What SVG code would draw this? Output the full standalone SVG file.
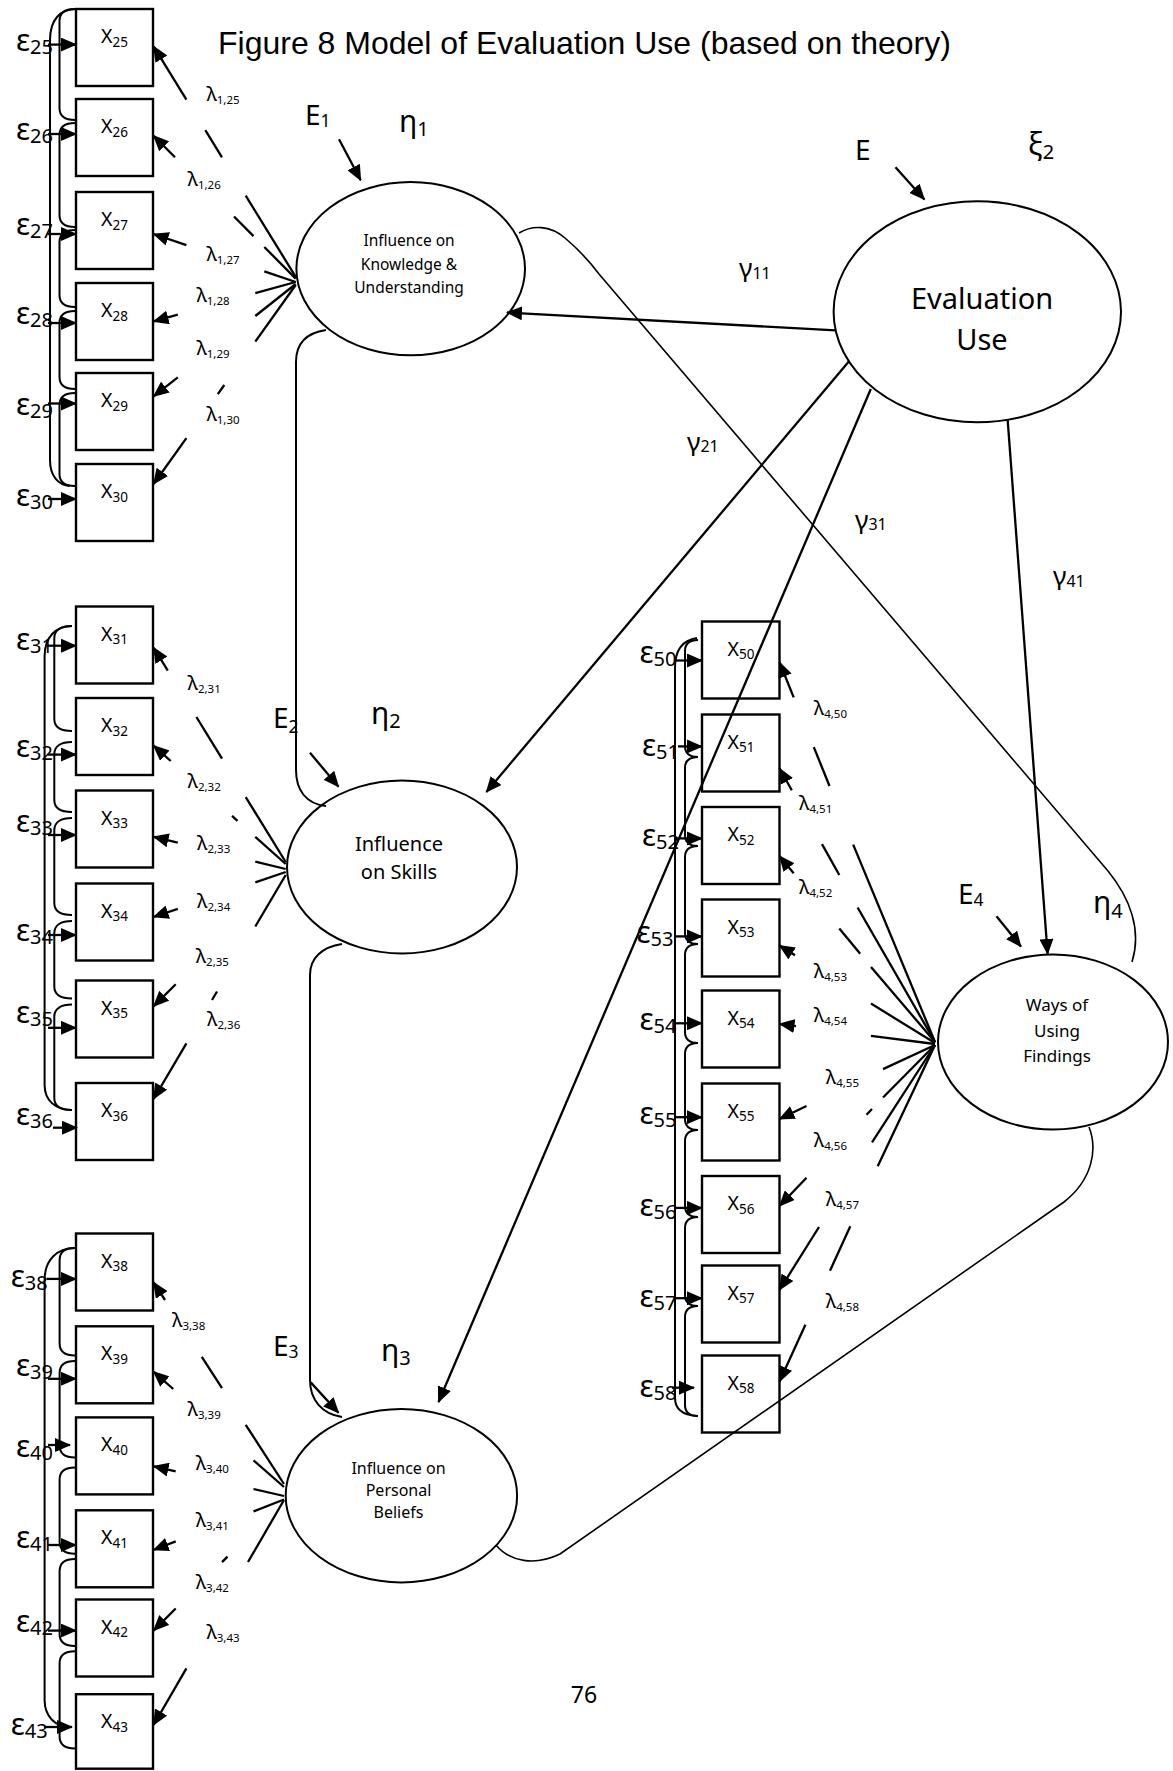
<svg xmlns="http://www.w3.org/2000/svg" width="1173" height="1771" viewBox="0 0 1173 1771">
<style>
.t{font-family:"Noto Sans","DejaVu Sans",sans-serif;fill:#000}
.ln{stroke:#000;stroke-width:2.3;fill:none}
.br{stroke:#000;stroke-width:2;fill:none}
.thin{stroke:#000;stroke-width:1.6;fill:none}
.ar{marker-end:url(#ah)}
.box{fill:none;stroke:#000;stroke-width:2.4}
.ell{fill:none;stroke:#000;stroke-width:2}
.xl{font-size:19.5px}
.xs{font-size:13.5px}
.el{font-size:30px}
.es{font-size:20px}
.ll{font-size:20px}
.ls{font-size:11.5px}
.bigE{font-size:28px}
.bigEs{font-size:17.5px}
.eta{font-size:30px}
.etas{font-size:20px}
.gam{font-size:26px}
.gams{font-size:16px}
</style>
<defs>
<marker id="ah" viewBox="0 0 16 14" markerWidth="16" markerHeight="14" refX="15" refY="7" orient="auto" markerUnits="userSpaceOnUse"><path d="M0,0L16,7L0,14z" fill="#000"/></marker>
</defs>

<text id="title" x="218" y="53.5" font-family="Liberation Sans, Arial, sans-serif" font-size="32" fill="#000">Figure 8 Model of Evaluation Use (based on theory)</text>
<text id="page" class="t" x="584" y="1703" text-anchor="middle" font-size="23">76</text>

<!-- Indicator boxes -->
<g id="x25"><rect class="box" x="76" y="9" width="77" height="77"/><text class="t xl" x="114.5" y="43" text-anchor="middle">X<tspan class="xs" dy="3.5">25</tspan></text></g>
<g id="x26"><rect class="box" x="76" y="99" width="77" height="77"/><text class="t xl" x="114.5" y="133" text-anchor="middle">X<tspan class="xs" dy="3.5">26</tspan></text></g>
<g id="x27"><rect class="box" x="76" y="192" width="77" height="77"/><text class="t xl" x="114.5" y="226" text-anchor="middle">X<tspan class="xs" dy="3.5">27</tspan></text></g>
<g id="x28"><rect class="box" x="76" y="283" width="77" height="77"/><text class="t xl" x="114.5" y="317" text-anchor="middle">X<tspan class="xs" dy="3.5">28</tspan></text></g>
<g id="x29"><rect class="box" x="76" y="373" width="77" height="77"/><text class="t xl" x="114.5" y="407" text-anchor="middle">X<tspan class="xs" dy="3.5">29</tspan></text></g>
<g id="x30"><rect class="box" x="76" y="464" width="77" height="77"/><text class="t xl" x="114.5" y="498" text-anchor="middle">X<tspan class="xs" dy="3.5">30</tspan></text></g>

<g id="x31"><rect class="box" x="76" y="606.5" width="77" height="77"/><text class="t xl" x="114.5" y="640.5" text-anchor="middle">X<tspan class="xs" dy="3.5">31</tspan></text></g>
<g id="x32"><rect class="box" x="76" y="698" width="77" height="77"/><text class="t xl" x="114.5" y="732" text-anchor="middle">X<tspan class="xs" dy="3.5">32</tspan></text></g>
<g id="x33"><rect class="box" x="76" y="790.5" width="77" height="77"/><text class="t xl" x="114.5" y="824.5" text-anchor="middle">X<tspan class="xs" dy="3.5">33</tspan></text></g>
<g id="x34"><rect class="box" x="76" y="883.5" width="77" height="77"/><text class="t xl" x="114.5" y="917.5" text-anchor="middle">X<tspan class="xs" dy="3.5">34</tspan></text></g>
<g id="x35"><rect class="box" x="76" y="980.5" width="77" height="77"/><text class="t xl" x="114.5" y="1014.5" text-anchor="middle">X<tspan class="xs" dy="3.5">35</tspan></text></g>
<g id="x36"><rect class="box" x="76" y="1083" width="77" height="77"/><text class="t xl" x="114.5" y="1117" text-anchor="middle">X<tspan class="xs" dy="3.5">36</tspan></text></g>

<g id="x38"><rect class="box" x="76" y="1233.5" width="77" height="77"/><text class="t xl" x="114.5" y="1267.5" text-anchor="middle">X<tspan class="xs" dy="3.5">38</tspan></text></g>
<g id="x39"><rect class="box" x="76" y="1326.3" width="77" height="77"/><text class="t xl" x="114.5" y="1360.3" text-anchor="middle">X<tspan class="xs" dy="3.5">39</tspan></text></g>
<g id="x40"><rect class="box" x="76" y="1417.4" width="77" height="77"/><text class="t xl" x="114.5" y="1451.4" text-anchor="middle">X<tspan class="xs" dy="3.5">40</tspan></text></g>
<g id="x41"><rect class="box" x="76" y="1510.3" width="77" height="77"/><text class="t xl" x="114.5" y="1544.3" text-anchor="middle">X<tspan class="xs" dy="3.5">41</tspan></text></g>
<g id="x42"><rect class="box" x="76" y="1599.5" width="77" height="77"/><text class="t xl" x="114.5" y="1633.5" text-anchor="middle">X<tspan class="xs" dy="3.5">42</tspan></text></g>
<g id="x43"><rect class="box" x="76" y="1694.2" width="77" height="74.5"/><text class="t xl" x="114.5" y="1728.2" text-anchor="middle">X<tspan class="xs" dy="3.5">43</tspan></text></g>

<g id="x50"><rect class="box" x="702" y="621.5" width="77.5" height="77"/><text class="t xl" x="741" y="655.5" text-anchor="middle">X<tspan class="xs" dy="3.5">50</tspan></text></g>
<g id="x51"><rect class="box" x="702" y="714.5" width="77.5" height="77"/><text class="t xl" x="741" y="748.5" text-anchor="middle">X<tspan class="xs" dy="3.5">51</tspan></text></g>
<g id="x52"><rect class="box" x="702" y="807" width="77.5" height="77"/><text class="t xl" x="741" y="841" text-anchor="middle">X<tspan class="xs" dy="3.5">52</tspan></text></g>
<g id="x53"><rect class="box" x="702" y="899.5" width="77.5" height="77"/><text class="t xl" x="741" y="933.5" text-anchor="middle">X<tspan class="xs" dy="3.5">53</tspan></text></g>
<g id="x54"><rect class="box" x="702" y="990.5" width="77.5" height="77"/><text class="t xl" x="741" y="1024.5" text-anchor="middle">X<tspan class="xs" dy="3.5">54</tspan></text></g>
<g id="x55"><rect class="box" x="702" y="1083.5" width="77.5" height="77"/><text class="t xl" x="741" y="1117.5" text-anchor="middle">X<tspan class="xs" dy="3.5">55</tspan></text></g>
<g id="x56"><rect class="box" x="702" y="1176" width="77.5" height="77"/><text class="t xl" x="741" y="1210" text-anchor="middle">X<tspan class="xs" dy="3.5">56</tspan></text></g>
<g id="x57"><rect class="box" x="702" y="1265.5" width="77.5" height="77"/><text class="t xl" x="741" y="1299.5" text-anchor="middle">X<tspan class="xs" dy="3.5">57</tspan></text></g>
<g id="x58"><rect class="box" x="702" y="1355.5" width="77.5" height="77"/><text class="t xl" x="741" y="1389.5" text-anchor="middle">X<tspan class="xs" dy="3.5">58</tspan></text></g>

<!-- Latent variables -->
<g id="eta1"><ellipse class="ell" cx="410.7" cy="268.7" rx="114.3" ry="86.6"/>
<text class="t" font-size="15.5" text-anchor="middle"><tspan x="409" y="246">Influence on</tspan><tspan x="409" y="269.5">Knowledge &amp;</tspan><tspan x="409" y="293">Understanding</tspan></text></g>
<g id="eta2"><ellipse class="ell" cx="402" cy="867" rx="115" ry="86.4"/>
<text class="t" font-size="20" text-anchor="middle"><tspan x="399" y="851">Influence</tspan><tspan x="399" y="879">on Skills</tspan></text></g>
<g id="eta3"><ellipse class="ell" cx="401.4" cy="1495.7" rx="115.7" ry="86.7"/>
<text class="t" font-size="16" text-anchor="middle"><tspan x="398.5" y="1473.5">Influence on</tspan><tspan x="398.5" y="1496">Personal</tspan><tspan x="398.5" y="1518">Beliefs</tspan></text></g>
<g id="eta4"><ellipse class="ell" cx="1053" cy="1042" rx="115" ry="87.5"/>
<text class="t" font-size="17" text-anchor="middle"><tspan x="1057" y="1011">Ways of</tspan><tspan x="1057" y="1036.5">Using</tspan><tspan x="1057" y="1062">Findings</tspan></text></g>
<g id="xi2"><ellipse class="ell" cx="977.3" cy="311.8" rx="143.7" ry="110.5"/>
<text class="t" font-size="29" text-anchor="middle"><tspan x="982" y="309">Evaluation</tspan><tspan x="982" y="350">Use</tspan></text></g>

<!-- Latent labels -->
<g id="latent-labels" class="t">
<text class="bigE" x="305" y="125">E<tspan class="bigEs" dy="2">1</tspan></text>
<text class="eta" x="399" y="132">η<tspan class="etas" dy="3.5">1</tspan></text>
<text class="bigE" x="273" y="727.8">E<tspan class="bigEs" dy="5">2</tspan></text>
<text class="eta" x="371" y="724.3">η<tspan class="etas" dy="3.5">2</tspan></text>
<text class="bigE" x="273" y="1355.6">E<tspan class="bigEs" dy="2">3</tspan></text>
<text class="eta" x="381" y="1361">η<tspan class="etas" dy="3.5">3</tspan></text>
<text class="bigE" x="958" y="903.5">E<tspan class="bigEs" dy="2">4</tspan></text>
<text class="eta" x="1093" y="912.6">η<tspan class="etas" dy="5">4</tspan></text>
<text class="bigE" x="855" y="159.5">E</text>
<text class="eta" x="1028" y="155">ξ<tspan class="etas" dy="4">2</tspan></text>
<text class="gam" x="739" y="277">γ<tspan class="gams" dy="1.5">11</tspan></text>
<text class="gam" x="687" y="450.5">γ<tspan class="gams" dy="1.5">21</tspan></text>
<text class="gam" x="855" y="528.5">γ<tspan class="gams" dy="1.5">31</tspan></text>
<text class="gam" x="1053" y="585">γ<tspan class="gams" dy="1.5">41</tspan></text>
</g>

<!-- Error labels -->
<g id="eps-labels" class="t">
<text class="el" x="16" y="51">ε<tspan class="es" dy="3">25</tspan></text>
<text class="el" x="16" y="140">ε<tspan class="es" dy="3">26</tspan></text>
<text class="el" x="16" y="235">ε<tspan class="es" dy="3">27</tspan></text>
<text class="el" x="16" y="324">ε<tspan class="es" dy="3">28</tspan></text>
<text class="el" x="16" y="415">ε<tspan class="es" dy="3">29</tspan></text>
<text class="el" x="16" y="506">ε<tspan class="es" dy="3">30</tspan></text>
<text class="el" x="16" y="650">ε<tspan class="es" dy="3">31</tspan></text>
<text class="el" x="16" y="757">ε<tspan class="es" dy="3">32</tspan></text>
<text class="el" x="16" y="832">ε<tspan class="es" dy="3">33</tspan></text>
<text class="el" x="16" y="941">ε<tspan class="es" dy="3">34</tspan></text>
<text class="el" x="16" y="1023">ε<tspan class="es" dy="3">35</tspan></text>
<text class="el" x="16" y="1125">ε<tspan class="es" dy="3">36</tspan></text>
<text class="el" x="10.7" y="1287">ε<tspan class="es" dy="3">38</tspan></text>
<text class="el" x="16" y="1376">ε<tspan class="es" dy="3">39</tspan></text>
<text class="el" x="16" y="1456.5">ε<tspan class="es" dy="3">40</tspan></text>
<text class="el" x="16" y="1547.5">ε<tspan class="es" dy="3">41</tspan></text>
<text class="el" x="16" y="1631.5">ε<tspan class="es" dy="3">42</tspan></text>
<text class="el" x="10.7" y="1735">ε<tspan class="es" dy="3">43</tspan></text>
<text class="el" x="639.5" y="663">ε<tspan class="es" dy="3">50</tspan></text>
<text class="el" x="642" y="756.3">ε<tspan class="es" dy="3">51</tspan></text>
<text class="el" x="642" y="845.8">ε<tspan class="es" dy="3">52</tspan></text>
<text class="el" x="636.5" y="942.7">ε<tspan class="es" dy="3">53</tspan></text>
<text class="el" x="639.5" y="1030.4">ε<tspan class="es" dy="3">54</tspan></text>
<text class="el" x="639.5" y="1123.5">ε<tspan class="es" dy="3">55</tspan></text>
<text class="el" x="639.5" y="1216">ε<tspan class="es" dy="3">56</tspan></text>
<text class="el" x="639.5" y="1307.4">ε<tspan class="es" dy="3">57</tspan></text>
<text class="el" x="639.5" y="1397">ε<tspan class="es" dy="3">58</tspan></text>
</g>

<!-- Loading labels -->
<g id="lambda-labels" class="t">
<text class="ll" x="206.4" y="101">λ<tspan class="ls" dy="3">1,25</tspan></text>
<text class="ll" x="187.5" y="186">λ<tspan class="ls" dy="3">1,26</tspan></text>
<text class="ll" x="206.4" y="261">λ<tspan class="ls" dy="3">1,27</tspan></text>
<text class="ll" x="196.4" y="302">λ<tspan class="ls" dy="3">1,28</tspan></text>
<text class="ll" x="196.4" y="355">λ<tspan class="ls" dy="3">1,29</tspan></text>
<text class="ll" x="206.4" y="421">λ<tspan class="ls" dy="3">1,30</tspan></text>
<text class="ll" x="187.5" y="690">λ<tspan class="ls" dy="3">2,31</tspan></text>
<text class="ll" x="187.5" y="788">λ<tspan class="ls" dy="3">2,32</tspan></text>
<text class="ll" x="197" y="850">λ<tspan class="ls" dy="3">2,33</tspan></text>
<text class="ll" x="197" y="908">λ<tspan class="ls" dy="3">2,34</tspan></text>
<text class="ll" x="195.7" y="963">λ<tspan class="ls" dy="3">2,35</tspan></text>
<text class="ll" x="207" y="1026">λ<tspan class="ls" dy="3">2,36</tspan></text>
<text class="ll" x="172" y="1327">λ<tspan class="ls" dy="3">3,38</tspan></text>
<text class="ll" x="187.5" y="1416">λ<tspan class="ls" dy="3">3,39</tspan></text>
<text class="ll" x="195.7" y="1470">λ<tspan class="ls" dy="3">3,40</tspan></text>
<text class="ll" x="195.7" y="1527">λ<tspan class="ls" dy="3">3,41</tspan></text>
<text class="ll" x="195.7" y="1589">λ<tspan class="ls" dy="3">3,42</tspan></text>
<text class="ll" x="206.4" y="1639">λ<tspan class="ls" dy="3">3,43</tspan></text>
<text class="ll" x="813.8" y="715">λ<tspan class="ls" dy="3">4,50</tspan></text>
<text class="ll" x="799" y="810">λ<tspan class="ls" dy="3">4,51</tspan></text>
<text class="ll" x="799" y="894">λ<tspan class="ls" dy="3">4,52</tspan></text>
<text class="ll" x="813.8" y="977.5">λ<tspan class="ls" dy="3">4,53</tspan></text>
<text class="ll" x="813.8" y="1022">λ<tspan class="ls" dy="3">4,54</tspan></text>
<text class="ll" x="825.8" y="1084">λ<tspan class="ls" dy="3">4,55</tspan></text>
<text class="ll" x="813.8" y="1147.4">λ<tspan class="ls" dy="3">4,56</tspan></text>
<text class="ll" x="825.8" y="1206">λ<tspan class="ls" dy="3">4,57</tspan></text>
<text class="ll" x="825.8" y="1308">λ<tspan class="ls" dy="3">4,58</tspan></text>
</g>

<g id="connectors">
<!-- error arrows -->
<g class="ln ar">
<path d="M48 44.6H76"/><path d="M48 134H76"/><path d="M48 234H76"/><path d="M48 323H76"/><path d="M48 403.5H76"/><path d="M48 499H76"/>
<path d="M48 645.7H76"/><path d="M48 754.6H76"/><path d="M48 835H76"/><path d="M48 935H76"/><path d="M48 1027.8H76"/><path d="M53 1127.7H77"/>
<path d="M46.4 1278.9H76"/><path d="M48 1378.8H76"/><path d="M48 1445H70"/><path d="M48 1545H76"/><path d="M48 1630.6H76"/><path d="M44 1727H72"/>
<path d="M675 660.5H702"/><path d="M678 746.4H702"/><path d="M675 838.4H702"/><path d="M675 936.4H702"/><path d="M675 1023.3H702"/><path d="M675 1117.2H702"/><path d="M675 1207.9H702"/><path d="M675 1298.2H702"/><path d="M672 1387.7H694"/>
</g>
<!-- correlated error brackets -->
<g class="br">
<path d="M75 9C64 9 59.5 13 59.5 21V108C59.5 116 64 120 75 120"/>
<path d="M75 123C64 123 59.5 127 59.5 135V215C59.5 223 64 227 75 227"/>
<path d="M75 230C64 230 59.5 234 59.5 242V295C59.5 303 64 307 75 307"/>
<path d="M75 311C64 311 59.5 315 59.5 323V377C59.5 385 64 389 75 389"/>
<path d="M75 393C64 393 59.5 397 59.5 405V474C59.5 482 64 486 75 486"/>
<path d="M76 9C60 9 50 20 50 40V460C50 476 58 485 70 486"/>

<path d="M72 626C61 626 54.3 630 54.3 638V719C54.3 727 61 731 72 731"/>
<path d="M72 742C61 742 54.3 746 54.3 754V800C54.3 808 61 812 72 812"/>
<path d="M72 818C61 818 54.3 822 54.3 830V903C54.3 911 61 915 72 915"/>
<path d="M72 921C61 921 54.3 925 54.3 933V986.5C54.3 994.5 61 998.5 72 998.5"/>
<path d="M72 1004.6C61 1004.6 54.3 1008.6 54.3 1016.6V1098C54.3 1106 61 1110 72 1110"/>
<path d="M72 626C55 626 44.6 638 44.6 656V1085C44.6 1100 55 1110 72 1110"/>

<path d="M75 1248C64 1248 59.6 1252 59.6 1260V1343.6C59.6 1351.6 64 1355.6 75 1355.6"/>
<path d="M75 1361C64 1361 59.6 1365 59.6 1373V1445.4C59.6 1453.4 64 1457.4 75 1457.4"/>
<path d="M75 1467.4C64 1467.4 59.6 1471.4 59.6 1479.4V1541.8C59.6 1549.8 64 1553.8 75 1553.8"/>
<path d="M75 1559C64 1559 59.6 1563 59.6 1571V1634C59.6 1642 64 1646 75 1646"/>
<path d="M75 1651.3C64 1651.3 59.6 1655.3 59.6 1663.3V1736.4C59.6 1744.4 64 1748.4 75 1748.4"/>
<path d="M75 1248C57 1248 44.6 1260 44.6 1280V1700C44.6 1716 55 1727 70 1727"/>

<path d="M698 640C689 640 685 644 685 651V746C685 753 689 757 698 757"/>
<path d="M698 757C689 757 685 761 685 768V835C685 842 689 846 698 846"/>
<path d="M698 846C689 846 685 850 685 857V933C685 940 689 944 698 944"/>
<path d="M698 944C689 944 685 948 685 955V1032C685 1039 689 1043 698 1043"/>
<path d="M698 1043C689 1043 685 1047 685 1054V1119C685 1126 689 1130 698 1130"/>
<path d="M698 1130C689 1130 685 1134 685 1141V1206C685 1213 689 1217 698 1217"/>
<path d="M698 1217C689 1217 685 1221 685 1228V1295C685 1302 689 1306 698 1306"/>
<path d="M698 1306C689 1306 685 1310 685 1317V1405C685 1412 689 1416 698 1416"/>
<path d="M697 638C683 640 675 650 675 668V1398C675 1410 683 1415 697 1416"/>
</g>
<!-- loadings: factor 1 -->
<g class="ln">
<path class="ar" d="M186.4 99.6L153.6 46.4"/><path d="M205.3 130.2L222 157.3"/><path d="M245.7 195.7L295.7 276.8"/>
<path class="ar" d="M175 157.2L153.6 135.7"/><path d="M234 216.5L253.5 236.1"/><path d="M264.3 247L295.7 278.6"/>
<path class="ar" d="M186.4 245.1L153.6 234"/><path d="M264.3 271.4L295.7 282"/>
<path class="ar" d="M177.8 314.7L153.6 321.4"/><path d="M255.3 293.2L295.7 282"/>
<path class="ar" d="M177.8 377.3L153.6 396.4"/><path d="M255.3 316L295.7 284"/>
<path class="ar" d="M186.4 438.1L153.6 484"/><path d="M217.8 394.1L224.3 385"/><path d="M255.3 341.6L295.7 285"/>
</g>
<!-- loadings: factor 2 -->
<g class="ln">
<path class="ar" d="M167.8 670.6L153.6 647.5"/><path d="M196.4 717L222 758.6"/><path d="M245.7 797.1L285.7 862"/>
<path class="ar" d="M170.7 761L153.6 745.7"/><path d="M232 815.9L237.5 820.8"/><path d="M255.3 836.8L285.7 864"/>
<path class="ar" d="M177.8 842.7L153.6 836.8"/><path d="M255.3 861.6L285.7 869"/>
<path class="ar" d="M177.8 908.8L153.6 917"/><path d="M255.3 882.4L285.7 872"/>
<path class="ar" d="M175.7 984.2L153.6 1006.4"/>
<path class="ar" d="M186.4 1043.4L153.6 1099"/><path d="M212 1000L217 991.5"/><path d="M255.3 926.5L285.7 875"/>
</g>
<!-- loadings: factor 3 -->
<g class="ln">
<path class="ar" d="M165 1300L153.6 1282.4"/><path d="M201.8 1356.9L222 1388.1"/><path d="M245.7 1424.8L284 1484"/>
<path class="ar" d="M173.2 1389L153.6 1371.7"/><path d="M253.5 1460.3L284 1487"/>
<path class="ar" d="M175.7 1471.3L153.6 1466.3"/><path d="M253.5 1489L284 1496"/>
<path class="ar" d="M175.7 1541.4L153.6 1550"/><path d="M253.5 1511.4L284 1499.5"/>
<path class="ar" d="M175.7 1608.5L153.6 1630.6"/><path d="M222 1562.1L227.5 1556.6"/>
<path class="ar" d="M186.4 1668.4L153.6 1725"/><path d="M248 1562L284 1500"/>
</g>
<!-- loadings: factor 4 -->
<g class="ln">
<path class="ar" d="M793.7 697.4L779.5 662.3"/><path d="M813.8 747.1L829.5 786"/><path d="M853.2 844.6L935 1042"/>
<path class="ar" d="M791.8 790.2L779.5 768.3"/><path d="M822 844.1L839.3 875"/><path d="M857.6 907.5L935 1042"/>
<path class="ar" d="M793.7 873.2L779.5 856"/><path d="M839.3 928.5L860.2 953.8"/><path d="M871 966.9L935 1042"/>
<path class="ar" d="M795 955.3L779.5 945.5"/><path d="M871 1003.6L935 1043"/>
<path class="ar" d="M796 1026.2L779.5 1024"/><path d="M871 1035.9L935 1044"/>
<path class="ar" d="M806.5 1106L779.5 1119"/><path d="M883 1069.1L935 1045"/>
<path class="ar" d="M806.5 1177.7L779.5 1206"/><path d="M866.5 1114.8L872 1109"/><path d="M883 1097.5L935 1045"/>
<path class="ar" d="M819 1227L779.5 1290"/><path d="M872 1142.4L935 1045"/>
<path class="ar" d="M805.4 1324.7L779.5 1381.5"/><path d="M830 1270.8L850.3 1226.3"/><path d="M877.7 1166.2L935 1045"/>
</g>
<!-- disturbance arrows -->
<g class="ln ar">
<path d="M339 139.3L360.7 180.3"/>
<path d="M310 752.8L338.5 786.8"/>
<path d="M310.7 1382.4L338.5 1412.8"/>
<path d="M996.5 916.3L1021 946.6"/>
<path d="M895.5 167.3L924.4 199.4"/>
</g>
<!-- structural paths -->
<g class="ln ar">
<path d="M835.7 330.4L507 312.5"/>
<path d="M848.6 361.7L486.4 792"/>
<path d="M870.8 389L438.5 1402"/>
<path d="M1007.7 420.3L1047.6 953.9"/>
</g>
<!-- covariance curves -->
<g class="br">
<path d="M326 330C305 333 296 345 296 362V770C296 790 306 804 326 806"/>
<path d="M342 944C322 947 310 958 310 975V1380C310 1400 322 1414 342 1417"/>
</g>
<g class="thin">
<path d="M519 233C532 225 550 225 565 238C578 249 590 262 599 274L1108 871C1130 898 1142 930 1132 962"/>
<path d="M496 1545C510 1562 535 1566 560 1554L1064 1202C1092 1180 1098 1150 1089 1127"/>
</g>
</g>
</svg>
